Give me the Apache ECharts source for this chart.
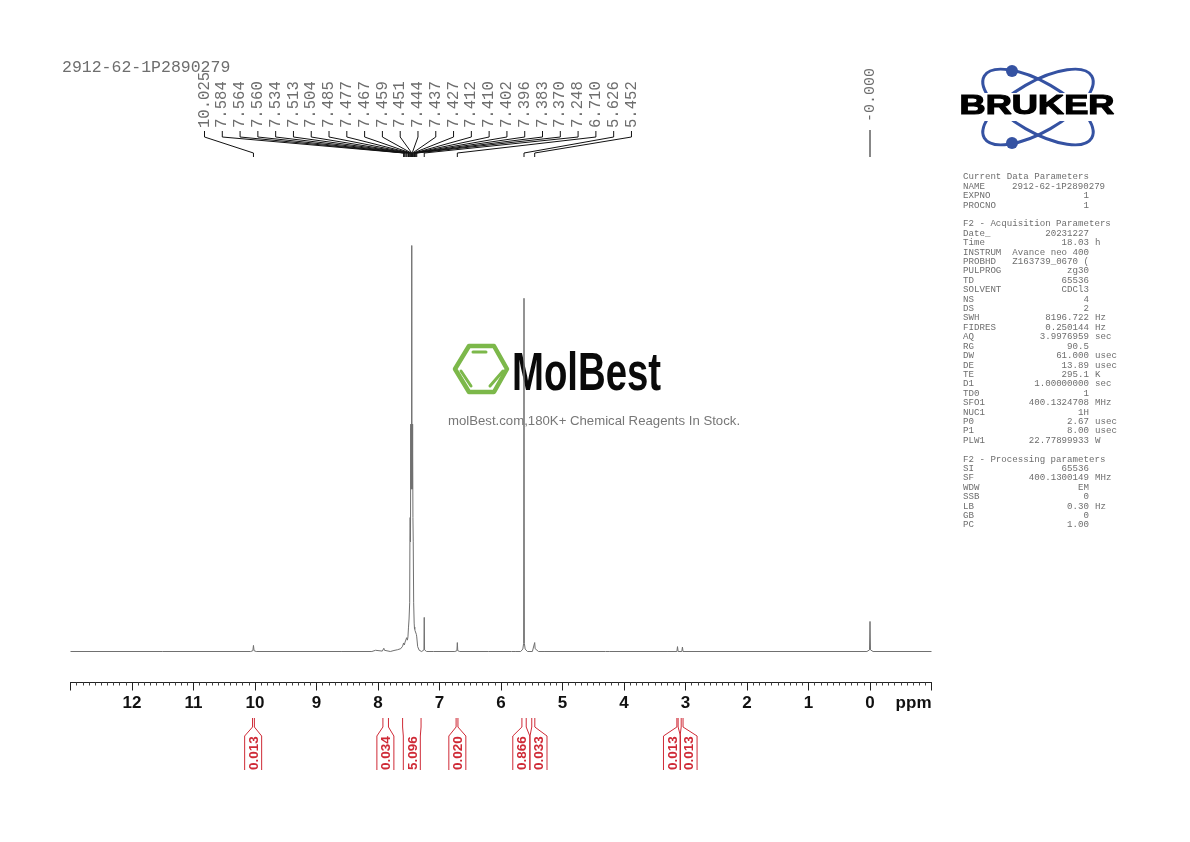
<!DOCTYPE html>
<html><head><meta charset="utf-8">
<style>html,body{margin:0;padding:0;background:#fff}#c{width:1190px;height:842px}</style>
<script src="https://cdn.jsdelivr.net/npm/echarts@6/dist/echarts.min.js"></script>
</head><body><div id="c"></div>
<script>
const sampleName = '2912-62-1P2890279';
const specPpm = [13,11.5,10.07,10.035,10.025,10.015,9.98,8.6,8.1,8.04,8.03,8.02,7.93,7.915,7.905,7.895,7.87,7.8,7.74,7.72,7.68,7.65,7.63,7.61,7.6,7.584,7.572,7.564,7.562,7.56,7.547,7.534,7.522,7.513,7.508,7.504,7.495,7.485,7.481,7.477,7.472,7.467,7.463,7.459,7.455,7.451,7.447,7.444,7.441,7.437,7.432,7.427,7.42,7.412,7.411,7.41,7.406,7.402,7.399,7.396,7.39,7.383,7.376,7.37,7.355,7.33,7.29,7.27,7.253,7.248,7.243,7.21,7.1,6.75,6.717,6.71,6.703,6.67,6.2,5.83,5.8,5.77,5.68,5.645,5.632,5.626,5.62,5.607,5.57,5.49,5.462,5.452,5.445,5.43,5.39,5.3,4.3,4.27,4.24,3.3,3.14,3.13,3.12,3.06,3.05,3.04,2,0.05,0.008,0,-0.008,-0.05,-1];
const specInt = [0,0,0,0.2,1.5,0.2,0,0,0,0.3,0.1,0.3,0.1,0.3,0.8,0.3,0,0,0.25,0.2,0.45,0.8,0.7,1,1.3,2.1,1.6,1.9,1.5,2.3,2.1,3.4,2.8,3.6,3.2,6,8,12,27,33,27,56,40,55,40,100,40,56,40,56,33,27,12,7,6.6,7.2,5.5,6,5.2,5.6,5,5,4.2,3.6,1.2,0.3,0,0,0.4,8.4,0.4,0,0,0,0.2,2.2,0.2,0,0,0,0.4,0,0,0.6,2,87,2,0.6,0,0,0.4,2.2,0.7,0.3,0,0,0,0.2,0,0,0,1.2,0,0,1.1,0,0,0,0.4,7.4,0.4,0,0];
const peakLabels = ['10.025','7.584','7.564','7.560','7.534','7.513','7.504','7.485','7.477','7.467','7.459','7.451','7.444','7.437','7.427','7.412','7.410','7.402','7.396','7.383','7.370','7.248','6.710','5.626','5.452'];
const tmsLabel = '-0.000';
const tmsPpm = [0];
const integralFrom = [10.04,7.92,7.60,6.73,5.66,5.50,3.14,3.07];
const integralTo = [10.01,7.83,7.30,6.70,5.59,5.45,3.12,3.04];
const integralValues = ['0.013','0.034','5.096','0.020','0.866','0.033','0.013','0.013'];
const integralLabelPpm = [10.03,7.88,7.45,6.71,5.67,5.39,3.22,2.95];
const paramRows = [
['Current Data Parameters'],['NAME','2912-62-1P2890279'],['EXPNO','1'],['PROCNO','1'],[],
['F2 - Acquisition Parameters'],['Date_','20231227'],['Time','18.03','h'],['INSTRUM','Avance neo 400'],['PROBHD','Z163739_0670 ('],['PULPROG','zg30'],['TD','65536'],['SOLVENT','CDCl3'],['NS','4'],['DS','2'],['SWH','8196.722','Hz'],['FIDRES','0.250144','Hz'],['AQ','3.9976959','sec'],['RG','90.5'],['DW','61.000','usec'],['DE','13.89','usec'],['TE','295.1','K'],['D1','1.00000000','sec'],['TD0','1'],['SFO1','400.1324708','MHz'],['NUC1','1H'],['P0','2.67','usec'],['P1','8.00','usec'],['PLW1','22.77899933','W'],[],
['F2 - Processing parameters'],['SI','65536'],['SF','400.1300149','MHz'],['WDW','EM'],['SSB','0'],['LB','0.30','Hz'],['GB','0'],['PC','1.00']];

const MONO = '"Liberation Mono",monospace';
const GRAY = '#6e6e6e';
const RED = '#cf2a36';
const specLine = specPpm.map((p,i)=>[p,specInt[i]]);

const graphics = [];
paramRows.forEach((r,i)=>{
  const y = 177 + i*9.405;
  const t = (text,x,align)=>graphics.push({type:'text',x,y,z:1,silent:true,style:{text,align,verticalAlign:'middle',font:'9.13px '+MONO,fill:GRAY}});
  if(r.length===1) t(r[0],963,'left');
  if(r.length>=2){
    t(r[0],963,'left');
    if(r[1].length>14) t(r[1],1012,'left'); else t(r[1],1089,'right');
    if(r[2]) t(r[2],1095,'left');
  }
});
// Bruker logo
const BLUE='#3552a2';
[-30,30].forEach(a=>graphics.push({type:'ellipse',x:1038,y:107,rotation:a*Math.PI/180,z:1,silent:true,shape:{cx:0,cy:0,rx:62,ry:25},style:{fill:'none',stroke:BLUE,lineWidth:3}}));
[71,143].forEach(y=>graphics.push({type:'circle',x:1012,y,z:2,silent:true,shape:{cx:0,cy:0,r:6},style:{fill:BLUE}}));
graphics.push({type:'rect',z:2,silent:true,shape:{x:956,y:93,width:162,height:28},style:{fill:'#fff'}});
graphics.push({type:'text',x:1037,y:107,scaleX:1.34,z:3,silent:true,style:{text:'BRUKER',align:'center',verticalAlign:'middle',font:'bold 27px "Liberation Sans",sans-serif',fill:'#000',stroke:'#000',lineWidth:1.2}});
// MolBest logo
const GREEN='#7cb84a';
graphics.push({type:'polygon',z:1,silent:true,shape:{points:[[455,369],[469,346],[494,346],[507,369],[494,392],[469,392]]},style:{fill:'none',stroke:GREEN,lineWidth:4.5,lineJoin:'round'}});
[[473,352,486,352],[461,371,471,386],[503,371,490,386]].forEach(s=>graphics.push({type:'line',z:1,silent:true,shape:{x1:s[0],y1:s[1],x2:s[2],y2:s[3]},style:{stroke:GREEN,lineWidth:3,lineCap:'round'}}));
graphics.push({type:'text',x:512,y:375,scaleX:0.71,z:1,silent:true,style:{text:'MolBest',align:'left',verticalAlign:'middle',font:'bold 54px "Liberation Sans",sans-serif',fill:'#0a0a0a'}});
graphics.push({type:'text',x:594,y:421,z:1,silent:true,style:{text:'molBest.com,180K+ Chemical Reagents In Stock.',align:'center',verticalAlign:'middle',font:'13.2px "Liberation Sans",sans-serif',fill:'#777'}});

const polyline=(pts,stroke,lineWidth)=>({type:'polyline',shape:{points:pts},style:{fill:'none',stroke,lineWidth}});

const chart = echarts.init(document.getElementById('c'),null,{renderer:'canvas'});
chart.setOption({
  animation:false,
  backgroundColor:'#fff',
  title:{text:sampleName,left:57,top:54,textStyle:{fontFamily:MONO,fontWeight:'normal',fontSize:16.5,color:GRAY}},
  grid:[
    {left:70.5,width:861,top:245.5,height:406},
    {left:70.5,width:861,top:672,height:10.5}
  ],
  xAxis:[
    {gridIndex:0,type:'value',min:-1,max:13,inverse:true,show:false},
    {gridIndex:1,type:'value',min:-1,max:13,interval:1,inverse:true,position:'bottom',
     axisLine:{show:true,onZero:false,lineStyle:{color:'#222',width:1}},
     axisTick:{show:true,length:8,lineStyle:{color:'#222',width:1}},
     minorTick:{show:true,splitNumber:10,length:3,lineStyle:{color:'#444',width:1}},
     splitLine:{show:false},
     axisLabel:{margin:12,fontFamily:'"Liberation Sans",sans-serif',fontWeight:'bold',fontSize:17,color:'#111',hideOverlap:false,showMinLabel:true,showMaxLabel:true,alignMinLabel:'right',
       formatter:v=>v===13?'':v===-1?'ppm':String(v)}}
  ],
  yAxis:[
    {gridIndex:0,type:'value',min:0,max:100,show:false},
    {gridIndex:1,type:'value',min:0,max:1,show:false}
  ],
  graphic:graphics,
  series:[
    {type:'line',xAxisIndex:0,yAxisIndex:0,data:specLine,showSymbol:false,symbol:'none',sampling:null,clip:false,z:5,silent:true,lineStyle:{color:'#707070',width:1}},
    {type:'custom',xAxisIndex:0,yAxisIndex:0,silent:true,z:6,clip:false,data:[0],coordinateSystem:'cartesian2d',
     renderItem:(params,api)=>{
       const children=[];
       peakLabels.forEach((s,i)=>{
         const lx=204.5+i*17.79;
         const px=api.coord([parseFloat(s),0])[0];
         children.push(polyline([[lx,131],[lx,137],[px,153],[px,157]],'#111',1));
         children.push({type:'text',x:lx,y:128,rotation:Math.PI/2,style:{text:s,align:'left',verticalAlign:'middle',font:'15.6px '+MONO,fill:GRAY}});
       });
       const tx=api.coord([tmsPpm[0],0])[0];
       children.push(polyline([[tx,130],[tx,157]],'#111',1));
       children.push({type:'text',x:tx,y:122,rotation:Math.PI/2,style:{text:tmsLabel,align:'left',verticalAlign:'middle',font:'15px '+MONO,fill:GRAY}});
       integralValues.forEach((v,i)=>{
         const a=api.coord([integralFrom[i],0])[0], b=api.coord([integralTo[i],0])[0], c=api.coord([integralLabelPpm[i],0])[0];
         children.push(polyline([[a,718],[a,727],[c-8.5,736],[c-8.5,770]],RED,1));
         children.push(polyline([[b,718],[b,727],[c+8.5,736],[c+8.5,770]],RED,1));
         children.push({type:'text',x:c+1,y:770,rotation:Math.PI/2,style:{text:v,align:'left',verticalAlign:'middle',font:'bold 13.5px "Liberation Sans",sans-serif',fill:RED}});
       });
       return {type:'group',children};
     }}
  ]
});
</script></body></html>
